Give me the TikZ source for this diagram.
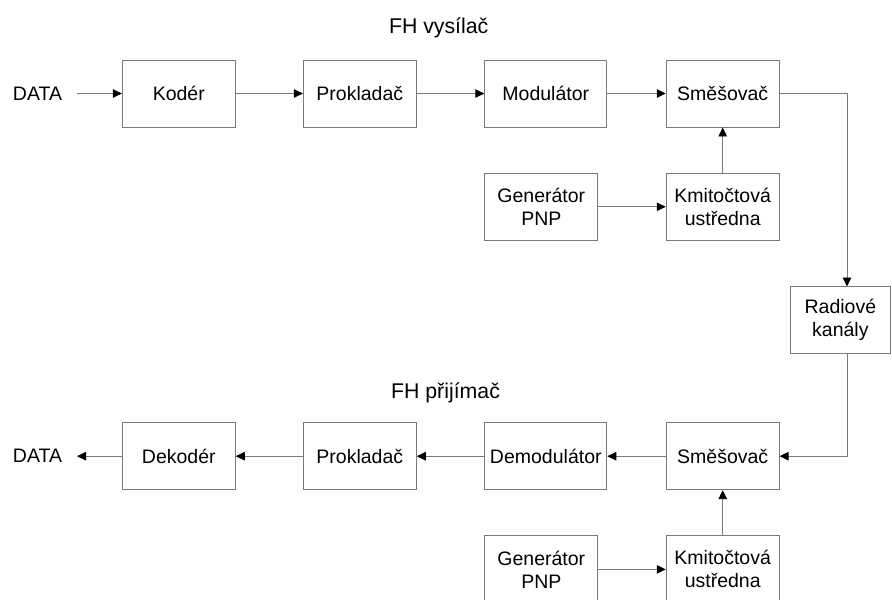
\documentclass[tikz,border=0pt]{standalone}
\usepackage{fontspec}
\setmainfont{Liberation Sans}
\usetikzlibrary{arrows.meta}
\definecolor{linegray}{HTML}{7A7A7A}

\begin{document}
\begin{tikzpicture}[x=1pt,y=-1pt,
    blok/.style={draw=linegray,line width=0.9pt,minimum width=113pt,minimum height=67pt,
      inner sep=0pt,align=center,font=\fontsize{19.5}{23}\selectfont},
    sirsi/.style={blok,minimum width=122pt},
    popis/.style={font=\fontsize{19.5}{23}\selectfont},
    nadpis/.style={anchor=base,font=\fontsize{21.3}{25}\selectfont},
    sipka/.style={draw=linegray,line width=0.9pt,-{Triangle[length=9pt,width=8.5pt,color=black]}}]
  \useasboundingbox (0,0) rectangle (892,600);
  \clip (0,0) rectangle (892,600);
  % vysilac
  \draw
    (438.7,33) node[nadpis] (tx) {FH vysílač}
    (37.5,93.5) node[popis] (din) {DATA}
    (178.8,93.5) node[blok] (kod) {Kodér}
    (359.8,93.5) node[blok] (prk1) {Prokladač}
    (545.8,93.5) node[sirsi] (mod) {Modulátor}
    (722.7,93.5) node[blok] (sm1) {Směšovač}
    (541.3,206.8) node[blok] (gen1) {Generátor\\PNP}
    (722.7,206.8) node[blok] (km1) {Kmitočtová\\ustředna};
  % kanal
  \draw
    (840.4,320) node[blok,minimum width=100pt] (kan) {Radiové\\kanály};
  % prijimac
  \draw
    (445.5,398) node[nadpis] (rx) {FH přijímač}
    (37.5,456.2) node[popis] (dout) {DATA}
    (178.8,456.2) node[blok] (dek) {Dekodér}
    (359.8,456.2) node[blok] (prk2) {Prokladač}
    (545.8,456.2) node[sirsi] (dem) {Demodulátor}
    (722.7,456.2) node[blok] (sm2) {Směšovač}
    (541.3,569.4) node[blok] (gen2) {Generátor\\PNP}
    (722.7,569.4) node[blok] (km2) {Kmitočtová\\ustředna};
  \coordinate (d1) at (77,93.5);
  \coordinate (d2) at (77,456.2);
  \coordinate (a1) at (847,93.5);
  \coordinate (a2) at (847,286.5);
  \coordinate (b1) at (847,353.5);
  \coordinate (b2) at (847,456.2);
  \begin{scope}[sipka]
    \draw (d1) to (kod);
    \draw (kod) to (prk1);
    \draw (prk1) to (mod);
    \draw (mod) to (sm1);
    \draw (gen1) to (km1);
    \draw (km1) to (sm1);
    \draw (sm1.east) -- (a1) -- (a2);
    \draw (b1) -- (b2) -- (sm2.east);
    \draw (sm2) to (dem);
    \draw (dem) to (prk2);
    \draw (prk2) to (dek);
    \draw (dek) to (d2);
    \draw (gen2) to (km2);
    \draw (km2) to (sm2);
  \end{scope}
\end{tikzpicture}
\end{document}
